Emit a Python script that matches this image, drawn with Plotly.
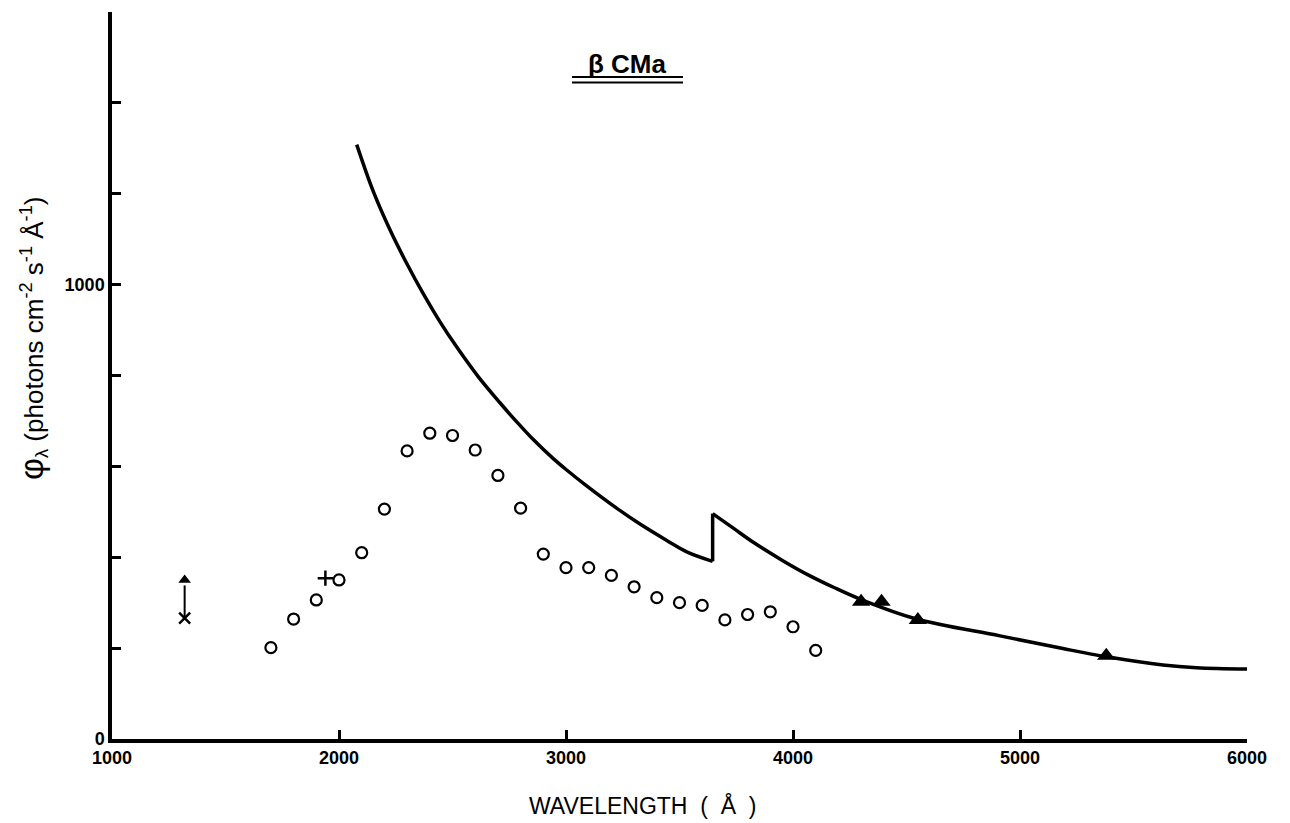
import plotly.graph_objects as go

# --- data ---
obs_wavelength = [1700, 1800, 1900, 2000, 2100, 2200, 2300, 2400, 2500, 2600, 2700, 2800,
                  2900, 3000, 3100, 3200, 3300, 3400, 3500, 3600, 3700, 3800, 3900, 4000, 4100]
obs_flux = [201, 264, 306, 350, 410, 506, 634, 673, 668, 636, 580, 508,
            407, 377, 377, 360, 335, 311, 300, 294, 262, 274, 280, 247, 195]

# model curve, blueward of the Balmer jump
model_blue_wavelength = [2078, 2151, 2225, 2298, 2371, 2445, 2518, 2614, 2709, 2783, 2856,
                         2944, 3003, 3091, 3223, 3326, 3444, 3532, 3646]
model_blue_flux = [1308, 1205, 1120, 1047, 980, 918, 863, 797, 740, 698, 659,
                   617, 592, 557, 508, 473, 437, 412, 391]
# model curve, redward of the Balmer jump
model_red_wavelength = [3646, 3737, 3825, 3957, 4075, 4178, 4295, 4545, 4912, 5189,
                        5382, 5630, 5778, 6000]
model_red_flux = [496, 464, 433, 392, 359, 334, 308, 264, 227, 199, 181, 163, 157, 154]

tri_wavelength = [4300, 4390, 4550, 5380]
tri_flux = [302, 302, 262, 183]

plus_wavelength = [1940]
plus_flux = [354]

lowlim_wavelength = [1320]
lowlim_flux = [266]
lowlim_arrow_top = [350]

x_ticks = [1000, 2000, 3000, 4000, 5000, 6000]
y_label_ticks = [0, 1000]
y_minor_ticks = [200, 400, 600, 800, 1200, 1400, 1600]

FONT = "Liberation Sans, Arial, sans-serif"
LW = 3.5

fig = go.Figure()
fig.add_trace(go.Scatter(x=model_blue_wavelength, y=model_blue_flux, mode="lines",
                         line=dict(color="black", width=LW, shape="spline", smoothing=1.0)))
fig.add_trace(go.Scatter(x=[model_blue_wavelength[-1], model_red_wavelength[0]],
                         y=[model_blue_flux[-1], model_red_flux[0]], mode="lines",
                         line=dict(color="black", width=LW)))
fig.add_trace(go.Scatter(x=model_red_wavelength, y=model_red_flux, mode="lines",
                         line=dict(color="black", width=LW, shape="spline", smoothing=1.0)))
fig.add_trace(go.Scatter(x=obs_wavelength, y=obs_flux, mode="markers",
                         marker=dict(symbol="circle-open", size=11, color="black",
                                     line=dict(width=2.2, color="black"))))
fig.add_trace(go.Scatter(x=tri_wavelength, y=tri_flux, mode="markers",
                         marker=dict(symbol="triangle-up", size=16, color="black")))
fig.add_trace(go.Scatter(x=plus_wavelength, y=plus_flux, mode="markers",
                         marker=dict(symbol="cross-thin", size=11, color="black",
                                     line=dict(width=2.5, color="black"))))
fig.add_trace(go.Scatter(x=lowlim_wavelength, y=lowlim_flux, mode="markers",
                         marker=dict(symbol="x-thin", size=11, color="black",
                                     line=dict(width=2.5, color="black"))))
# lower-limit arrow: shaft + head
fig.add_trace(go.Scatter(x=[lowlim_wavelength[0], lowlim_wavelength[0]],
                         y=[lowlim_flux[0], lowlim_arrow_top[0] - 12], mode="lines",
                         line=dict(color="black", width=2)))
fig.add_trace(go.Scatter(x=lowlim_wavelength, y=lowlim_arrow_top, mode="markers",
                         marker=dict(symbol="triangle-up", size=11, color="black")))

# title with double underline
fig.add_annotation(x=(627 - 112) / 1135, y=(739 - 64) / 727, xref="paper", yref="paper",
                   xanchor="center", yanchor="middle",
                   text="<b>β CMa</b>", showarrow=False,
                   font=dict(family=FONT, size=26, color="black"))
for ypx in (77, 82.5):
    fig.add_shape(type="line", xref="paper", yref="paper",
                  x0=(572 - 112) / 1135, x1=(683 - 112) / 1135,
                  y0=(739 - ypx) / 727, y1=(739 - ypx) / 727,
                  line=dict(color="black", width=2.2))

# y-axis title
fig.add_annotation(x=0, y=(739 - 339) / 727, xref="paper", yref="paper", xshift=-80,
                   xanchor="center", yanchor="middle",
                   text="<span style='font-size:34px'>φ</span><sub>λ</sub> (photons cm<sup>-2</sup> s<sup>-1</sup> Å<sup>-1</sup>)",
                   textangle=-90, showarrow=False,
                   font=dict(family=FONT, size=26, color="black"))

# x-axis title
fig.add_annotation(x=(642 - 112) / 1135, y=0, xref="paper", yref="paper", yshift=-66,
                   xanchor="center", yanchor="middle",
                   text="WAVELENGTH  (  Å  )", showarrow=False,
                   font=dict(family=FONT, size=23, color="black"))

tickfont = dict(family=FONT, size=18, color="black", weight="bold")
fig.update_xaxes(range=[1000, 6000], tickvals=x_ticks,
                 ticks="inside", ticklen=9, tickwidth=2.5, tickcolor="black",
                 showline=True, linecolor="black", linewidth=LW,
                 showgrid=False, zeroline=False, tickfont=tickfont)
fig.update_yaxes(range=[0, 1600], tickvals=y_label_ticks, ticktext=["0", "1000"],
                 ticks="inside", ticklen=9, tickwidth=2.5, tickcolor="black",
                 minor=dict(tickvals=y_minor_ticks, ticks="inside", ticklen=9,
                            tickwidth=2.5, tickcolor="black", showgrid=False),
                 showline=True, linecolor="black", linewidth=LW,
                 showgrid=False, zeroline=False, tickfont=tickfont)

fig.update_layout(width=1290, height=823,
                  margin=dict(l=112, r=43, t=12, b=84),
                  paper_bgcolor="white", plot_bgcolor="white",
                  showlegend=False)

fig.write_html("out.html")
